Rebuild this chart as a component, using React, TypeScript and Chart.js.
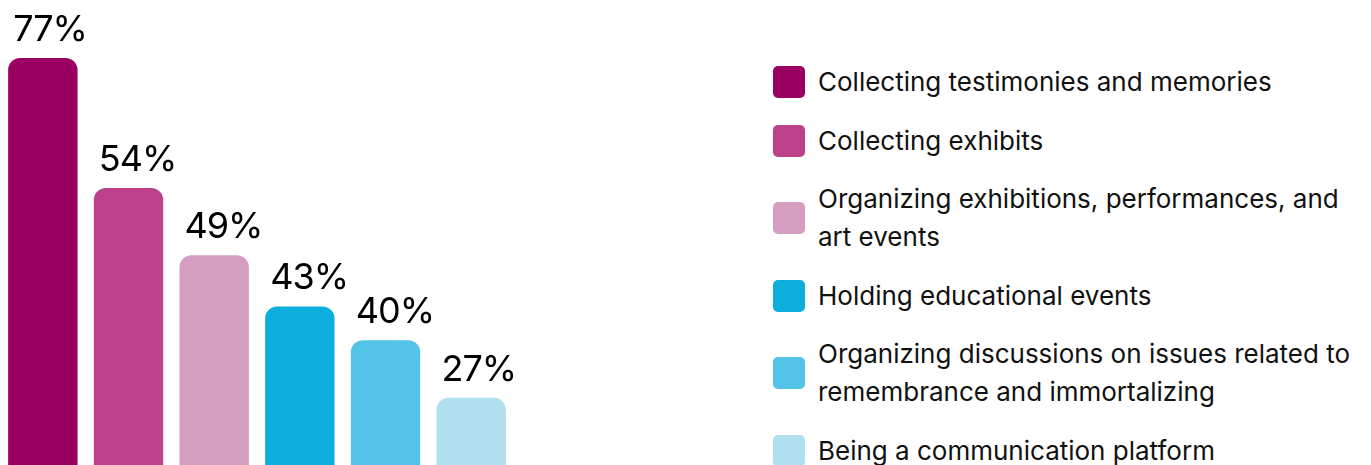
import React, { useEffect, useRef } from "react";
import { Chart, registerables } from "chart.js";

Chart.register(...registerables);

const categories = [
  "Collecting testimonies and memories",
  "Collecting exhibits",
  "Organizing exhibitions, performances, and\nart events",
  "Holding educational events",
  "Organizing discussions on issues related to\nremembrance and immortalizing",
  "Being a communication platform",
];
// Percentages printed above the bars
const percentages = [77, 54, 49, 43, 40, 27];
// Visual bar lengths as drawn in the infographic (not proportional to the printed %)
const barHeights = [77, 52.4, 39.7, 30, 23.6, 12.7];
const colors = ["#99005F", "#BC408A", "#D59EC1", "#0BAEDD", "#54C3E8", "#B0DFEF"];

const FONT = "Inter, 'Noto Sans', sans-serif";

export default function App() {
  const ref = useRef<HTMLCanvasElement | null>(null);
  useEffect(() => {
    if (!ref.current) return;
    const labelPlugin = {
      id: "pctLabels",
      afterDatasetsDraw(chart: any) {
        const ctx = chart.ctx;
        const meta = chart.getDatasetMeta(0);
        ctx.save();
        ctx.font = `36px ${FONT}`;
        (ctx as any).letterSpacing = "-1px";
        ctx.fillStyle = "#000";
        ctx.textAlign = "left";
        ctx.textBaseline = "alphabetic";
        meta.data.forEach((bar: any, i: number) => {
          const left = Math.max(8, bar.x - bar.width / 2 + 5);
          ctx.fillText(`${percentages[i]}%`, left, bar.y - 17);
        });
        ctx.restore();
      },
    };
    const chart = new Chart(ref.current, {
      type: "bar",
      data: {
        labels: categories,
        datasets: [
          {
            data: barHeights,
            backgroundColor: colors,
            borderRadius: { topLeft: 12, topRight: 12, bottomLeft: 0, bottomRight: 0 },
            borderSkipped: false,
            barPercentage: 0.81,
            categoryPercentage: 1,
          },
        ],
      },
      options: {
        animation: false,
        responsive: false,
        maintainAspectRatio: false,
        layout: { padding: { top: 58, left: 0, right: 0, bottom: 0 } },
        plugins: { legend: { display: false }, tooltip: { enabled: false } },
        scales: {
          x: { display: false },
          y: { display: false, min: 0, max: 77 },
        },
      },
      plugins: [labelPlugin],
    });
    return () => chart.destroy();
  }, []);

  return (
    <div
      style={{
        position: "fixed",
        left: 0,
        top: 0,
        width: 1371,
        height: 465,
        overflow: "hidden",
        background: "#fff",
        fontFamily: FONT,
      }}
    >
      <canvas
        ref={ref}
        width={514}
        height={465}
        style={{ position: "absolute", left: 0, top: 0, width: 514, height: 465 }}
      />
      <div style={{ position: "absolute", left: 773, top: 63, display: "flex", flexDirection: "column", gap: 20.5 }}>
        {categories.map((c, i) => (
          <div key={i} style={{ display: "flex", alignItems: "center" }}>
            <div
              style={{
                width: 32,
                height: 32,
                borderRadius: 5,
                background: colors[i],
                flex: "0 0 auto",
              }}
            />
            <div
              style={{
                marginLeft: 13,
                fontSize: 26,
                lineHeight: "38px",
                color: "#111",
                whiteSpace: "pre-line",
              }}
            >
              {c}
            </div>
          </div>
        ))}
      </div>
    </div>
  );
}
